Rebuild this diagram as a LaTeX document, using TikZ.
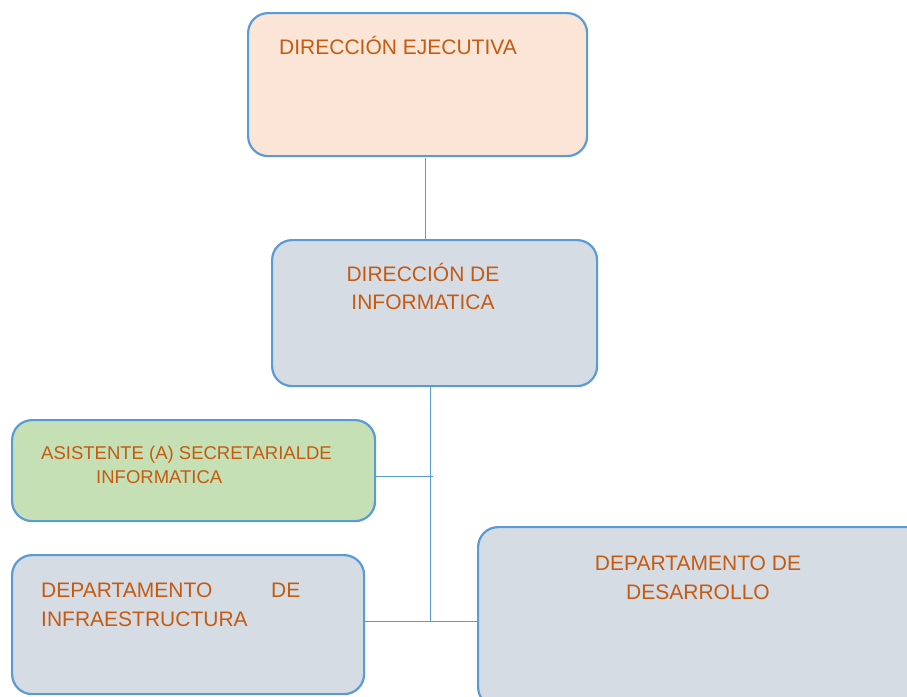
\documentclass[tikz,border=0pt]{standalone}
\usepackage{fontspec}
\setmainfont{Liberation Sans}
\definecolor{bord}{HTML}{5B9BD5}
\definecolor{txt}{HTML}{C55A11}
\definecolor{peach}{HTML}{FBE5D6}
\definecolor{grayb}{HTML}{D6DCE4}
\definecolor{greenb}{HTML}{C5E0B4}
\tikzset{
  box/.style={draw=bord, line width=2.2pt, rounded corners=20pt, inner sep=0pt, anchor=north west},
  lbl/.style={text=txt, font=\fontsize{21}{28}\selectfont, inner sep=0pt},
  slbl/.style={lbl, font=\fontsize{18.5}{24}\selectfont},
  conn/.style={draw=bord, line width=1pt}
}
\begin{document}
\begin{tikzpicture}[x=1pt,y=-1pt]
\useasboundingbox (0,0) rectangle (907,696);
\clip (0,0) rectangle (907,696);
\node[box, fill=peach, minimum width=339pt, minimum height=143pt] (ejec) at (247,12) {};
\node[box, fill=grayb, minimum width=325pt, minimum height=146pt] (info) at (271,239) {};
\node[box, fill=greenb, minimum width=363pt, minimum height=101pt] (asis) at (11,419) {};
\node[box, fill=grayb, minimum width=352pt, minimum height=139pt] (infra) at (11,554) {};
\node[box, fill=grayb, minimum width=460pt, minimum height=180pt] (desa) at (477,526) {};
% connectors
\coordinate (j1) at (430,476);
\coordinate (j2) at (430,621);
\draw[conn] (425,158) coordinate (e1) -- (e1 |- info.north);
\draw[conn] (info.south -| j1) -- (j2);
\draw[conn] (asis.east |- j1) -- ([xshift=3pt]j1);
\draw[conn] (infra.east |- j2) -- (desa.west |- j2);
% texts
\node[lbl, anchor=base west] (t1) at (279,54) {DIRECCIÓN EJECUTIVA};
\node[lbl, anchor=base] (t2a) at (423,281) {DIRECCIÓN DE};
\node[lbl, anchor=base] (t2b) at (423,309) {INFORMATICA};
\node[slbl, anchor=base west] (t3a) at (41,459) {ASISTENTE (A) SECRETARIALDE};
\node[slbl, anchor=base west] (t3b) at (96,483) {INFORMATICA};
\node[lbl, anchor=base west] (t4a) at (41,597) {DEPARTAMENTO};
\node[lbl, anchor=base west] (t4b) at (271,597) {DE};
\node[lbl, anchor=base west] (t4c) at (41,626) {INFRAESTRUCTURA};
\node[lbl, anchor=base] (t5a) at (698,570) {DEPARTAMENTO DE};
\node[lbl, anchor=base] (t5b) at (698,599) {DESARROLLO};
\end{tikzpicture}
\end{document}
